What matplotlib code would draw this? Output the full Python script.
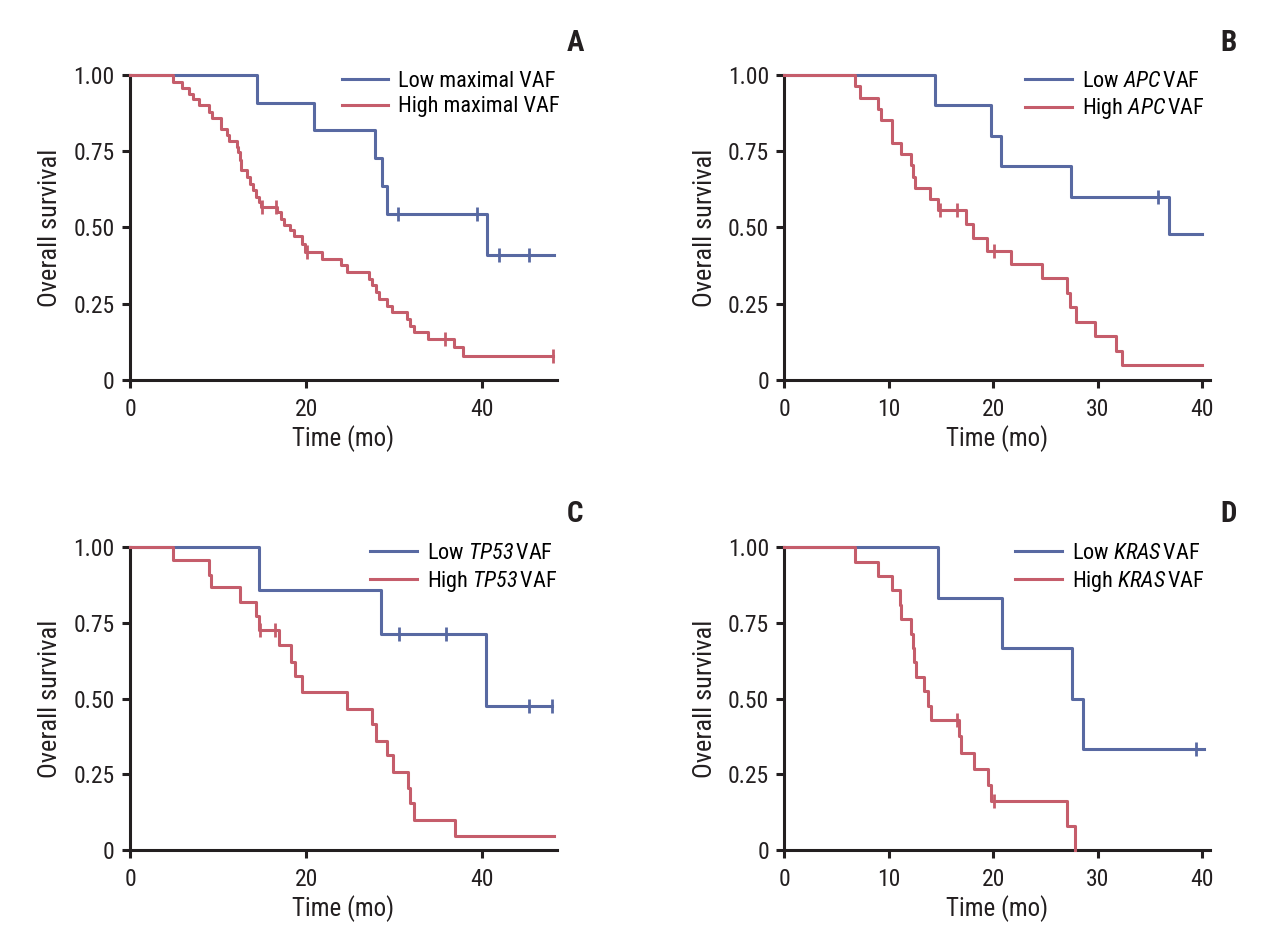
import numpy as np
import matplotlib
matplotlib.use('Agg')
import matplotlib.pyplot as plt
from matplotlib import font_manager


def first_font(names):
    for n in names:
        try:
            font_manager.findfont(font_manager.FontProperties(family=n), fallback_to_default=False)
            return n
        except Exception:
            pass
    return 'DejaVu Sans'


FAM = first_font(['Liberation Sans Narrow', 'Roboto Condensed', 'Roboto', 'DejaVu Sans'])
plt.rcParams['font.family'] = [FAM, 'DejaVu Sans']
# mathtext only used for the italic gene names
plt.rcParams['mathtext.fontset'] = 'custom'
plt.rcParams['mathtext.it'] = FAM + ':italic'
plt.rcParams['mathtext.rm'] = FAM + ':italic'

BLUE = '#5869a2'
RED = '#c55d6b'
INK = '#231f20'

# ---- A: maximal VAF ----
a_low_t = [0, 14.4, 20.9, 27.8, 28.6, 29.2, 40.5, 48.2]
a_low_s = [1.0, 0.909, 0.818, 0.727, 0.636, 0.545, 0.409, 0.409]
a_low_cens = [30.4, 39.4, 41.9, 45.3]
a_high_t = [0, 4.9, 5.9, 6.7, 7.2, 7.8, 9.0, 9.3, 10.35, 11.0, 11.2, 12.1, 12.3, 12.5, 12.6,
            13.3, 13.65, 14.0, 14.3, 14.6, 14.9, 16.7, 17.1, 17.5, 18.2, 18.6, 19.5, 19.9,
            21.8, 24.0, 24.65, 27.1, 27.5, 27.9, 28.25, 29.2, 29.8, 31.5, 31.8, 32.3, 33.9,
            36.8, 37.8, 48.0]
a_high_s = [1.0, 0.978, 0.956, 0.938, 0.920, 0.901, 0.879, 0.858, 0.822, 0.803, 0.783, 0.764,
            0.748, 0.721, 0.688, 0.666, 0.644, 0.622, 0.600, 0.584, 0.567, 0.551, 0.529, 0.507,
            0.491, 0.472, 0.447, 0.420, 0.398, 0.376, 0.354, 0.332, 0.310, 0.288, 0.266, 0.244,
            0.222, 0.200, 0.178, 0.156, 0.135, 0.107, 0.080, 0.080]
a_high_cens = [15.0, 16.6, 20.1, 35.8, 48.0]

# ---- B: APC VAF ----
b_low_t = [0, 14.4, 19.8, 20.8, 27.5, 36.8, 40.0]
b_low_s = [1.0, 0.9, 0.8, 0.7, 0.6, 0.48, 0.48]
b_low_cens = [35.8]
b_high_t = [0, 6.8, 7.25, 8.95, 9.3, 10.3, 11.2, 12.15, 12.3, 12.5, 14.0, 14.75, 17.4, 18.1,
            19.45, 21.7, 24.65, 27.05, 27.4, 27.9, 29.8, 31.75, 32.3, 40.0]
b_high_s = [1.0, 0.963, 0.926, 0.889, 0.852, 0.778, 0.741, 0.704, 0.667, 0.630, 0.593, 0.556,
            0.511, 0.467, 0.423, 0.380, 0.333, 0.286, 0.238, 0.190, 0.143, 0.095, 0.048, 0.048]
b_high_cens = [14.9, 16.5, 20.1]

# ---- C: TP53 VAF ----
c_low_t = [0, 14.6, 28.5, 40.4, 47.9]
c_low_s = [1.0, 0.857, 0.714, 0.476, 0.476]
c_low_cens = [30.5, 35.9, 45.35, 47.9]
c_high_t = [0, 4.9, 9.0, 9.2, 12.5, 14.3, 14.6, 16.9, 18.3, 18.7, 19.5, 24.7, 27.5, 27.9,
            29.2, 29.9, 31.6, 31.8, 32.3, 36.9, 48.2]
c_high_s = [1.0, 0.958, 0.909, 0.868, 0.818, 0.771, 0.727, 0.677, 0.622, 0.573, 0.521, 0.466,
            0.415, 0.361, 0.312, 0.259, 0.206, 0.154, 0.099, 0.047, 0.047]
c_high_cens = [14.8, 16.5]

# ---- D: KRAS VAF ----
d_low_t = [0, 14.7, 20.9, 27.6, 28.6, 40.2]
d_low_s = [1.0, 0.833, 0.667, 0.5, 0.333, 0.333]
d_low_cens = [39.4]
d_high_t = [0, 6.8, 8.95, 10.35, 11.1, 11.2, 12.15, 12.3, 12.45, 12.6, 13.4, 13.75, 14.05,
            16.7, 16.9, 18.2, 19.55, 19.8, 27.1, 27.85]
d_high_s = [1.0, 0.952, 0.905, 0.857, 0.810, 0.762, 0.714, 0.667, 0.619, 0.571, 0.524, 0.476,
            0.429, 0.375, 0.321, 0.268, 0.214, 0.161, 0.080, 0.0]
d_high_cens = [16.5, 20.1]

panels = [
    ('A', [0.1015, 0.5996, 0.3333, 0.3214], 48.5, [0, 20, 40],
     'Low maximal VAF', 'High maximal VAF', 0.496,
     (a_low_t, a_low_s, a_low_cens), (a_high_t, a_high_s, a_high_cens), (0.449, 0.955)),
    ('B', [0.6122, 0.5996, 0.3326, 0.3214], 40.8, [0, 10, 20, 30, 40],
     r'Low $\mathit{APC}\,$VAF', r'High $\mathit{APC}\,$VAF', 0.566,
     (b_low_t, b_low_s, b_low_cens), (b_high_t, b_high_s, b_high_cens), (0.959, 0.955)),
    ('C', [0.1015, 0.1043, 0.3333, 0.3193], 48.5, [0, 20, 40],
     r'Low $\mathit{TP53}\,$VAF', r'High $\mathit{TP53}\,$VAF', 0.562,
     (c_low_t, c_low_s, c_low_cens), (c_high_t, c_high_s, c_high_cens), (0.449, 0.458)),
    ('D', [0.6122, 0.1043, 0.3326, 0.3193], 40.8, [0, 10, 20, 30, 40],
     r'Low $\mathit{KRAS}\,$VAF', r'High $\mathit{KRAS}\,$VAF', 0.542,
     (d_low_t, d_low_s, d_low_cens), (d_high_t, d_high_s, d_high_cens), (0.959, 0.458)),
]


def surv_at(t, s, c):
    i = np.searchsorted(t, c, side='right') - 1
    return np.array(s)[i]


fig = plt.figure(figsize=(12.81, 9.49), dpi=100)

for letter, pos, xmax, xticks, lab_low, lab_high, legx, low, high, letpos in panels:
    ax = fig.add_axes(pos)
    handles = []
    for (t, s, cens), col in [(low, BLUE), (high, RED)]:
        h, = ax.step(t, s, where='post', color=col, lw=2.2, clip_on=False, zorder=3)
        ax.plot(cens, surv_at(t, s, cens), ls='none', marker='|', ms=10, mew=2.0,
                color=col, clip_on=False, zorder=3)
        handles.append(h)
    ax.set_xlim(0, xmax)
    ax.set_ylim(0, 1.0)
    ax.set_xticks(xticks)
    ax.set_yticks([0, 0.25, 0.5, 0.75, 1.0])
    ax.set_yticklabels(['0', '0.25', '0.50', '0.75', '1.00'])
    for sp in ['top', 'right']:
        ax.spines[sp].set_visible(False)
    for sp in ['left', 'bottom']:
        ax.spines[sp].set_linewidth(2.2)
        ax.spines[sp].set_color(INK)
        ax.spines[sp].set_capstyle('projecting')
    ax.tick_params(direction='out', length=6, width=2.2, color=INK, labelsize=17,
                   labelcolor=INK)
    ax.tick_params(axis='y', pad=5)
    ax.tick_params(axis='x', pad=7)
    ax.set_xlabel('Time (mo)', fontsize=18, color=INK, labelpad=3)
    ax.set_ylabel('Overall survival', fontsize=19, color=INK, labelpad=8)
    ax.legend(handles, [lab_low, lab_high], loc='upper left', bbox_to_anchor=(legx, 1.013),
              frameon=False, fontsize=16, handlelength=2.1, handletextpad=0.45,
              labelspacing=0.2, borderpad=0, borderaxespad=0)
    fig.text(letpos[0], letpos[1], letter, fontsize=21, fontweight='bold', color=INK,
             ha='center', va='center')

fig.savefig('out.png', dpi=100)
